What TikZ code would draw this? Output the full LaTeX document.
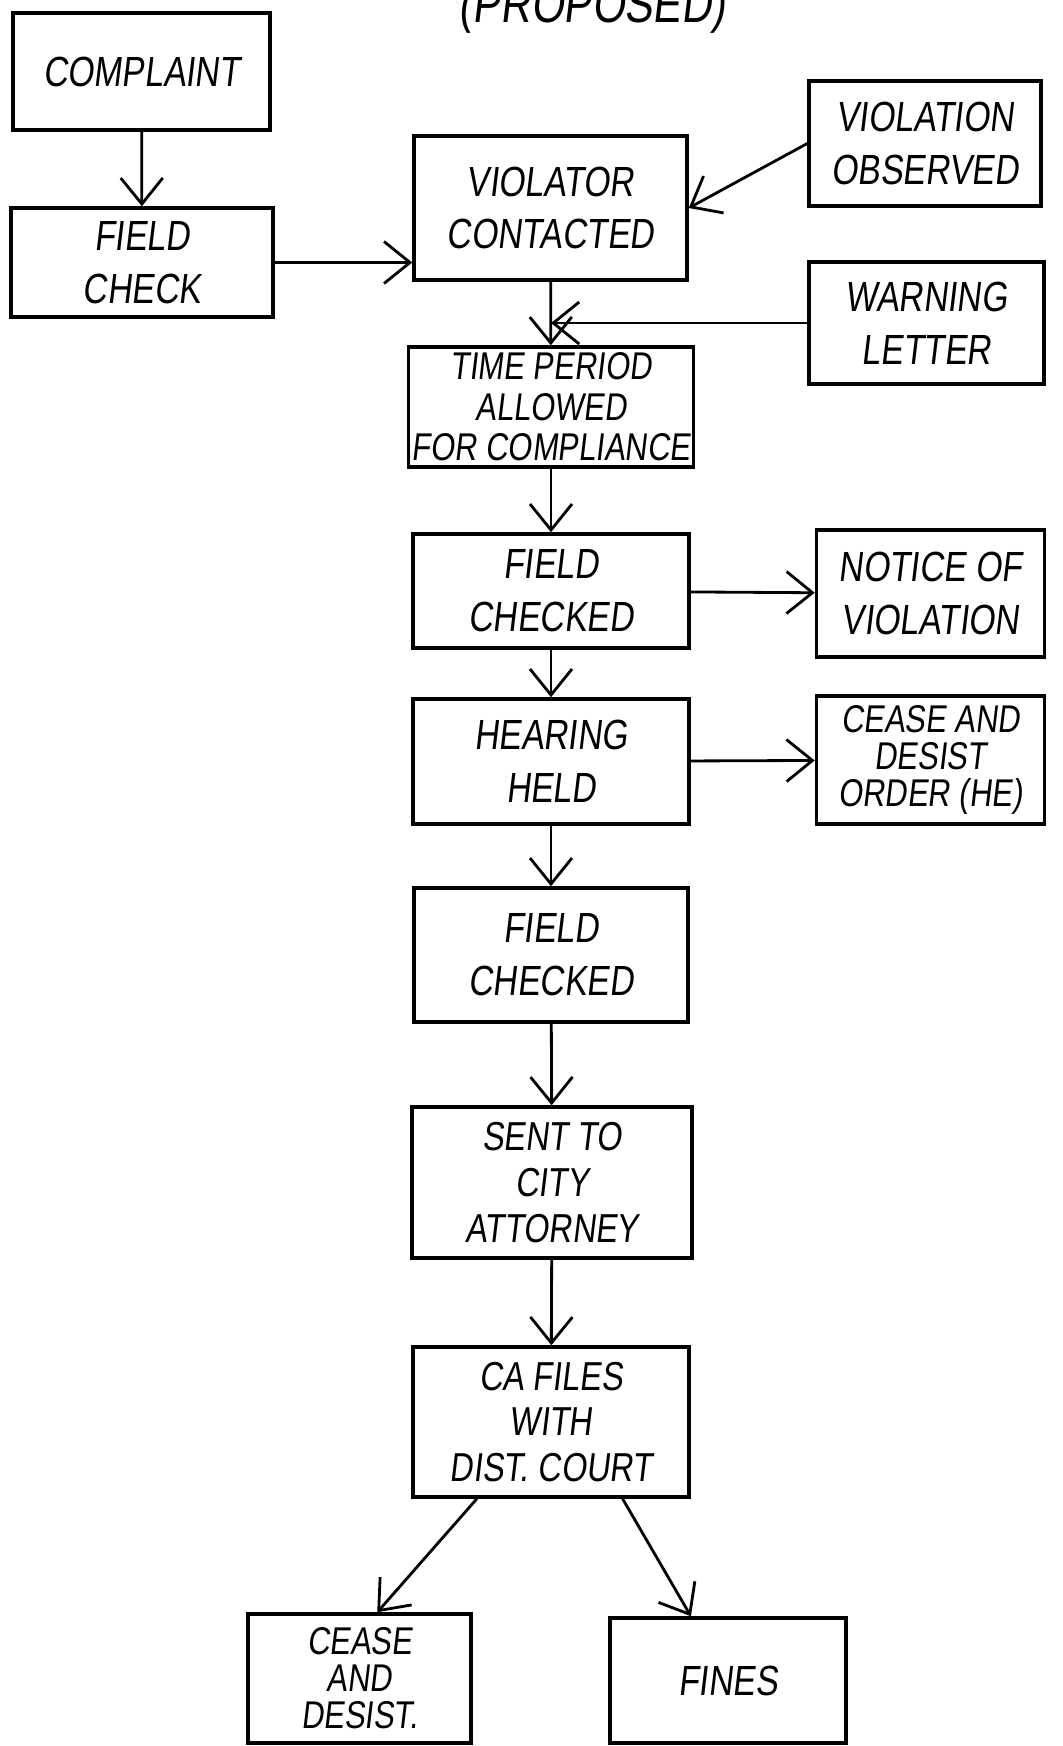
\documentclass[tikz,border=0pt]{standalone}
\usepackage{fontspec}
\usepackage{tikz}
\usetikzlibrary{arrows.meta,calc}
\newfontfamily\handfont{Liberation Sans}[FakeStretch=0.8,FakeSlant=0.12]

\begin{document}
\begin{tikzpicture}[
    box/.style={rectangle, draw=black, line width=1pt, align=center, inner sep=1pt, font=\handfont\fontsize{12}{15}\selectfont},
    mainbox/.style={box, minimum width=2.76cm, minimum height=1.25cm},
    sidebox/.style={box, minimum width=2.28cm, minimum height=1.25cm},
    leftbox/.style={box, minimum width=2.6cm, minimum height=1.1cm},
    threeline/.style={font=\handfont\fontsize{11.5}{13}\selectfont},
    packed/.style={font=\handfont\fontsize{11}{10.5}\selectfont},
    arrow/.style={line width=0.8pt, -{Straight Barb[length=2.6mm, width=4.2mm]}}
]
\useasboundingbox (0,0) rectangle (10.63,-17.46);

% Title (cut off at the top)
\node[font=\handfont\fontsize{15}{18}\selectfont, anchor=base] (title) at (5.92,-0.22) {(PROPOSED)};

% Left column
\node[leftbox, minimum width=2.57cm, minimum height=1.17cm] (complaint) at (1.415,-0.715) {COMPLAINT};
\node[leftbox, minimum width=2.62cm, minimum height=1.09cm] (fieldcheck) at (1.42,-2.625) {FIELD\\CHECK};

% Main column
\node[mainbox, minimum width=2.73cm, minimum height=1.44cm] (contacted) at (5.505,-2.08) {VIOLATOR\\CONTACTED};
\node[mainbox, minimum width=2.74cm, minimum height=1.2cm, font=\handfont\fontsize{11}{11.5}\selectfont] (timeperiod) at (5.51,-4.07) {TIME PERIOD\\ALLOWED\\FOR COMPLIANCE};
\node[mainbox, minimum height=1.14cm] (checkedA) at (5.51,-5.91) {FIELD\\CHECKED};
\node[mainbox] (hearing) at (5.51,-7.615) {HEARING\\HELD};
\node[mainbox, minimum width=2.74cm, minimum height=1.34cm] (checkedB) at (5.51,-9.55) {FIELD\\CHECKED};
\node[mainbox, threeline, minimum width=2.8cm, minimum height=1.51cm] (attorney) at (5.52,-11.825) {SENT TO\\CITY\\ATTORNEY};
\node[mainbox, threeline, minimum height=1.5cm] (cafiles) at (5.51,-14.22) {CA FILES\\WITH\\DIST. COURT};

% Right column
\node[sidebox, minimum width=2.32cm] (observed) at (9.25,-1.435) {VIOLATION\\OBSERVED};
\node[sidebox, minimum width=2.35cm, minimum height=1.22cm] (warning) at (9.265,-3.23) {WARNING\\LETTER};
\node[sidebox, minimum height=1.27cm] (notice) at (9.305,-5.935) {NOTICE OF\\VIOLATION};
\node[sidebox, packed, minimum height=1.28cm] (ceaseorder) at (9.305,-7.6) {CEASE AND\\DESIST\\ORDER (HE)};

% Outcomes
\node[box, packed, minimum width=2.23cm, minimum height=1.29cm] (cease) at (3.595,-16.785) {CEASE\\AND\\DESIST.};
\node[box, minimum width=2.36cm, minimum height=1.25cm] (fines) at (7.28,-16.805) {FINES};

\coordinate (join) at (warning -| timeperiod);

% Arrows
\draw[arrow] (complaint) -- (fieldcheck);
\draw[arrow] (fieldcheck) -- (fieldcheck -| contacted.west);
\draw[arrow] (observed.west) -- (contacted.east);
\draw[arrow] (contacted) -- (timeperiod);
\draw[arrow] (warning) -- (join);

\draw[arrow] (timeperiod) -- (checkedA);
\draw[arrow] (checkedA) -- (notice);
\draw[arrow] (checkedA) -- (hearing);
\draw[arrow] (hearing) -- (ceaseorder);
\draw[arrow] (hearing) -- (checkedB);
\draw[arrow] (checkedB) -- (attorney);
\draw[arrow] (attorney) -- (cafiles);

\draw[arrow] (cafiles.-134) -- (cease.75);
\draw[arrow] (cafiles.-47) -- (fines.120);

\end{tikzpicture}
\end{document}
